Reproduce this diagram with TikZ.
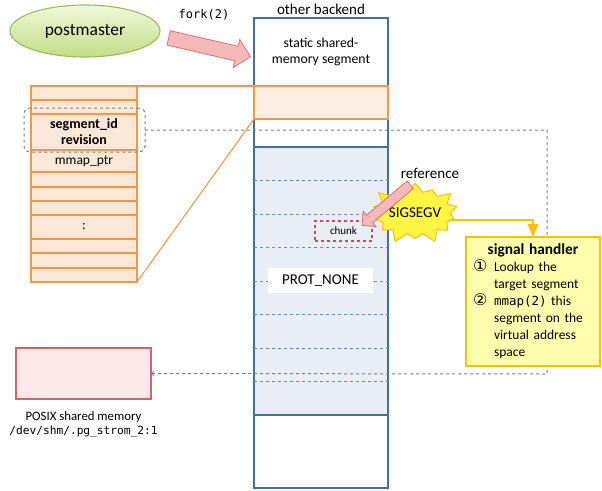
\documentclass[tikz,border=0pt]{standalone}
\usepackage{fontspec}
\setmainfont{Carlito}
\setmonofont{DejaVu Sans Mono}
\newfontfamily\symfont{DejaVu Sans}
\usetikzlibrary{calc, positioning, arrows, shapes.geometric, shapes.symbols, shapes.arrows}
\definecolor{pmtop}{HTML}{F0F8DA}
\definecolor{pmbottom}{HTML}{C4DD86}
\definecolor{pmdraw}{HTML}{9BBB59}
\definecolor{forkfill}{HTML}{F6B9B9}
\definecolor{forkdraw}{HTML}{D9736F}
\definecolor{tblfill}{HTML}{FCE8D8}
\definecolor{tbldraw}{HTML}{F79646}
\definecolor{segdraw}{HTML}{41719C}
\definecolor{segfill}{HTML}{E9EEF6}
\definecolor{blkline}{HTML}{5B8ED0}
\definecolor{hdlfill}{HTML}{FFFFAE}
\definecolor{hdldraw}{HTML}{FFC000}
\definecolor{starfill}{HTML}{FFF542}
\definecolor{shmfill}{HTML}{FBE9E9}
\definecolor{shmdraw}{HTML}{D06666}
\definecolor{chunkdraw}{HTML}{C0504D}

\begin{document}
\begin{tikzpicture}[
    x=1pt, y=-1pt,
    every node/.style={inner sep=0pt, outer sep=0pt, align=center},
    segment/.style={draw=segdraw, line width=1.1pt, minimum width=134pt},
    tblrow/.style={draw=tbldraw, line width=1.2pt, fill=tblfill, minimum width=106pt, font=\fontsize{13.5}{15}\selectfont},
    fatarrow/.style={single arrow, draw=forkdraw, fill=forkfill, line width=0.8pt},
    blockline/.style={draw=blkline, dashed, thin},
    dashlink/.style={->, draw=black!50, dashed, line width=1pt},
    siglink/.style={-triangle 45, draw=hdldraw, line width=2pt},
    zoomline/.style={draw=tbldraw, line width=1.1pt}
]
\useasboundingbox (0,0) rectangle (602,490);

\node[ellipse, draw=pmdraw, line width=1.1pt, top color=pmtop, bottom color=pmbottom, minimum width=150pt, minimum height=52pt, font=\fontsize{17.5}{20}\selectfont] (postmaster) at (85,31) {postmaster};
\node[font=\ttfamily\fontsize{12}{14}\selectfont] (forklbl) at (204,15) {fork(2)};
\node[fatarrow, inner xsep=2pt, inner ysep=7pt, single arrow head extend=7pt, minimum height=84pt, rotate=-13] (forkarrow) at (206,46.5) {};

\node[segment, minimum height=68pt, font=\fontsize{13.7}{16}\selectfont] (staticseg) at (321,52) {static shared-\\memory segment};
\node[font=\fontsize{15}{17}\selectfont, above=3pt of staticseg] (backendlbl) {other backend};
\node[segment, minimum height=28pt] (gapseg) at (321,133) {};
\node[segment, fill=segfill, minimum height=268pt] (dynseg) at (321,281) {};
\node[segment, minimum height=73pt] (tailseg) at (321,451.5) {};
\node[segment, draw=tbldraw, fill=tblfill!75, minimum height=33pt] (dsm) at (321,102.5) {};
\foreach \i in {1,...,7}
    \draw[blockline] ($(dynseg.north west)+(0,33.5*\i)$) -- ++(134,0);
\node[draw=chunkdraw, dashed, line width=1.2pt, minimum width=57pt, minimum height=20pt, font=\fontsize{11}{13}\selectfont] (chunk) at (343.5,231) {chunk};
\node[fill=white, minimum width=105pt, minimum height=25pt, font=\fontsize{15}{17}\selectfont] (protnone) at (320.5,280.5) {PROT\_NONE};

\node[tblrow, minimum height=14pt] (r1) at (84,93) {};
\node[tblrow, minimum height=14pt, below=0pt of r1] (r2) {};
\node[tblrow, minimum height=36pt, below=0pt of r2, font=\bfseries\fontsize{14}{16}\selectfont] (r3) {segment\_id\\revision};
\node[tblrow, minimum height=22pt, below=0pt of r3] (r4) {mmap\_ptr};
\node[tblrow, minimum height=15pt, below=0pt of r4] (r5) {};
\node[tblrow, minimum height=14pt, below=0pt of r5] (r6) {};
\node[tblrow, minimum height=14pt, below=0pt of r6] (r7) {};
\node[tblrow, minimum height=24pt, below=0pt of r7] (r8) {:};
\node[tblrow, minimum height=14pt, below=0pt of r8] (r9) {};
\node[tblrow, minimum height=15pt, below=0pt of r9] (r10) {};
\node[tblrow, minimum height=14pt, below=0pt of r10] (r11) {};
\node[draw=black!50, dashed, line width=1pt, rounded corners=6pt, minimum width=121pt, minimum height=44pt] (segbox) at (84.5,130) {};

\draw[zoomline] (r1.north east) -- (dsm.north west);
\draw[zoomline] (r11.south east) -- (dsm.south west);

\node[draw=shmdraw, line width=1.1pt, fill=shmfill, minimum width=135pt, minimum height=51pt] (posixshm) at (83.5,373.5) {};
\node[below=13pt of posixshm, font=\fontsize{12.8}{14}\selectfont] (posixlbl) {POSIX shared memory\\{\ttfamily\fontsize{11.2}{14}\selectfont /dev/shm/.pg\_strom\_2:1}};

\coordinate (turn) at (547,374);
\draw[dashlink] (segbox.east) -| (turn) -- (posixshm.east);

\node[draw=hdldraw, line width=1.6pt, fill=hdlfill, minimum width=134pt, minimum height=129pt, text width=120pt, align=left, font=\fontsize{13.5}{17}\selectfont] (handler) at (533,301.5) {\makebox[120pt]{\fontsize{15.4}{17}\selectfont\bfseries signal handler}\\
\makebox[21pt][l]{\symfont\fontsize{16}{17}\selectfont ①}Lookup the\\
\hspace*{21pt}target segment\\
\makebox[21pt][l]{\symfont\fontsize{16}{17}\selectfont ②}{\ttfamily\fontsize{12.5}{17}\selectfont mmap(2)} this\\
\hspace*{21pt}segment on the\\
\hspace*{21pt}virtual address\\
\hspace*{21pt}space};

\node[starburst, draw=hdldraw, fill=starfill, line width=1pt, starburst points=14, starburst point height=12pt, inner xsep=25pt, inner ysep=15pt, label={[font=\fontsize{15}{17}\selectfont]center:SIGSEGV}] (sigsegv) at (415,213) {};
\draw[siglink] (sigsegv.-10) -| (handler.north);
\node[font=\fontsize{15}{17}\selectfont] (reflbl) at (430,173) {reference};
\node[fatarrow, inner xsep=2pt, inner ysep=4.5pt, single arrow head extend=5pt, minimum height=63pt, rotate=220] (refarrow) at (388,203.5) {};
\end{tikzpicture}
\end{document}
